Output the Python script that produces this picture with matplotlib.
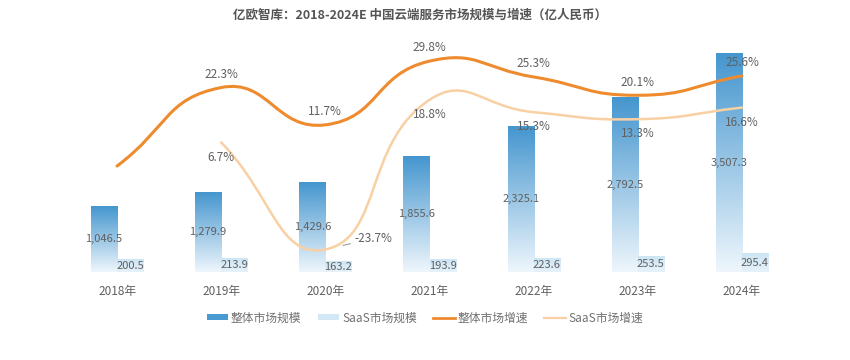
import numpy as np
import matplotlib
matplotlib.use("Agg")
import matplotlib.pyplot as plt
from matplotlib.path import Path
from matplotlib.patches import PathPatch, Patch
from matplotlib.lines import Line2D
from matplotlib.colors import to_rgba

plt.rcParams['font.family'] = ['Noto Sans CJK SC', 'DejaVu Sans']

years = ['2018年', '2019年', '2020年', '2021年', '2022年', '2023年', '2024年']
total_size = [1046.5, 1279.9, 1429.6, 1855.6, 2325.1, 2792.5, 3507.3]
saas_size = [200.5, 213.9, 163.2, 193.9, 223.6, 253.5, 295.4]
total_growth = [0.0, 22.3, 11.7, 29.8, 25.3, 20.1, 25.6]
saas_growth = [None, 6.7, -23.7, 18.8, 15.3, 13.3, 16.6]

TXT = '#606060'
ORANGE = '#EE8B2E'
PEACH = '#F8D0A4'

fig = plt.figure(figsize=(8.5, 3.6), dpi=100)
ax = fig.add_axes([65 / 850, 88 / 360, 729 / 850, 249.6 / 360])
ax.set_xlim(-0.5, len(years) - 0.5)
ax.set_ylim(0, 4000)


def grad_bar(ax, x, h, w, top, bottom):
    c0 = np.array(to_rgba(bottom))
    c1 = np.array(to_rgba(top))
    t = np.linspace(0, 1, 128)[:, None]
    img = (c0 + (c1 - c0) * t)[:, None, :]
    ax.imshow(img, extent=(x - w / 2, x + w / 2, 0, h), origin='lower',
              aspect='auto', zorder=2, interpolation='bilinear')


bw = 0.25
for i, (a, b) in enumerate(zip(total_size, saas_size)):
    grad_bar(ax, i - bw / 2, a, bw, '#4596CF', '#EEF6FC')
    grad_bar(ax, i + bw / 2, b, bw, '#CDE5F5', '#E6F2FA')
    ax.text(i - bw / 2, a / 2, f'{a:,.1f}', ha='center', va='center',
            fontsize=8, color=TXT, zorder=5)
    ax.text(i + bw / 2, b / 2, f'{b:,.1f}', ha='center', va='center',
            fontsize=8, color=TXT, zorder=5)

ax.set_xlim(-0.5, len(years) - 0.5)
ax.set_ylim(0, 4000)
ax.set_xticks(range(len(years)))
ax.set_xticklabels(years, fontsize=8.5, color=TXT)
ax.tick_params(axis='x', length=0, pad=9)
ax.set_yticks([])
for s in ax.spines.values():
    s.set_visible(False)

# growth lines on a hidden twin axis
ax2 = ax.twinx()
ax2.set_ylim(-30.1, 40.8)
ax2.set_yticks([])
for s in ax2.spines.values():
    s.set_visible(False)


def smooth_line(ax, xs, ys, color, lw, smooth=0.5):
    pts = ax.transData.transform(np.column_stack([xs, ys]))
    n = len(pts)
    cps = []
    for i in range(n):
        prev = pts[max(i - 1, 0)]
        nxt = pts[min(i + 1, n - 1)]
        v = (nxt - prev) * smooth
        d0 = np.hypot(*(pts[i] - prev))
        d1 = np.hypot(*(nxt - pts[i]))
        s = d0 + d1
        if s > 0:
            d0, d1 = d0 / s, d1 / s
        cps.append((pts[i] - v * d0, pts[i] + v * d1))
    verts = [pts[0]]
    codes = [Path.MOVETO]
    for i in range(n - 1):
        verts += [cps[i][1], cps[i + 1][0], pts[i + 1]]
        codes += [Path.CURVE4] * 3
    path = Path(ax.transData.inverted().transform(np.array(verts)), codes)
    ax.add_patch(PathPatch(path, fill=False, edgecolor=color, lw=lw,
                           capstyle='round', zorder=4))


x_all = np.arange(len(years))
smooth_line(ax2, x_all, total_growth, ORANGE, 2.2)
sx = [i for i, v in enumerate(saas_growth) if v is not None]
sy = [v for v in saas_growth if v is not None]
smooth_line(ax2, sx, sy, PEACH, 1.8)

for i, v in enumerate(total_growth):
    if i == 0:
        continue
    ax2.annotate(f'{v}%', (i, v), xytext=(0, 9.5), textcoords='offset points',
                 ha='center', va='center', fontsize=8.5, color=TXT, zorder=6)
for i, v in zip(sx, sy):
    if v < 0:
        ax2.annotate(f'{v}%', (i, v), xytext=(21, 8), textcoords='offset points',
                     ha='left', va='center', fontsize=8.5, color=TXT, zorder=6,
                     arrowprops=dict(arrowstyle='-', color='#A0A0A0', lw=0.8,
                                     shrinkA=1, shrinkB=13))
    else:
        ax2.annotate(f'{v}%', (i, v), xytext=(0, -10.5), textcoords='offset points',
                     ha='center', va='center', fontsize=8.5, color=TXT, zorder=6)

fig.text(0.494, 1 - 15 / 360,
         '亿欧智库：2018-2024E 中国云端服务市场规模与增速（亿人民币）',
         ha='center', va='center', fontsize=9, fontweight='bold', color='#555555')

handles = [
    Patch(facecolor='#4A9AD2', edgecolor='none'),
    Patch(facecolor='#D3E8F6', edgecolor='none'),
    Line2D([], [], color=ORANGE, lw=2),
    Line2D([], [], color=PEACH, lw=1.6),
]
labels = ['整体市场规模', 'SaaS市场规模', '整体市场增速', 'SaaS市场增速']
leg = fig.legend(handles, labels, loc='center', bbox_to_anchor=(0.5, 42 / 360),
                 ncol=4, frameon=False, fontsize=8.5, handlelength=1.8,
                 handleheight=0.45, handletextpad=0.25, columnspacing=1.4)
for t in leg.get_texts():
    t.set_color('#707070')

fig.savefig('out.png', dpi=100)
